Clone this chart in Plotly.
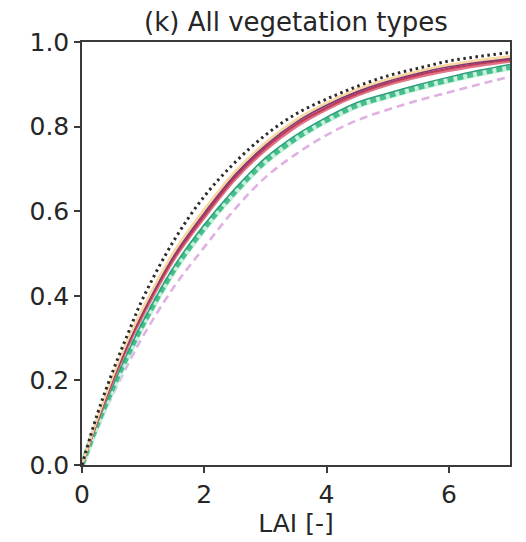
import plotly.graph_objects as go

# LAI grid [-]
lai = [0, 0.25, 0.5, 0.75, 1, 1.5, 2, 2.5, 3, 3.5, 4, 4.5, 5, 5.5, 6, 6.5, 7]

# Black dotted curve (highest)
dotted = [0, 0.120, 0.220, 0.310, 0.395, 0.530, 0.635, 0.715, 0.780, 0.830, 0.865, 0.895, 0.920, 0.938, 0.955, 0.966, 0.975]

# Magma-coloured solid bundle
mag_yellow = [0, 0.110, 0.208, 0.296, 0.372, 0.503, 0.604, 0.693, 0.762, 0.816, 0.856, 0.888, 0.912, 0.931, 0.946, 0.957, 0.966]
mag_purple = [0, 0.107, 0.204, 0.290, 0.366, 0.496, 0.597, 0.686, 0.756, 0.811, 0.851, 0.883, 0.908, 0.927, 0.942, 0.953, 0.962]
mag_red = [0, 0.105, 0.200, 0.285, 0.360, 0.490, 0.590, 0.680, 0.750, 0.805, 0.845, 0.878, 0.903, 0.922, 0.937, 0.949, 0.958]
mag_pink = [0, 0.102, 0.196, 0.280, 0.354, 0.484, 0.584, 0.674, 0.744, 0.799, 0.840, 0.873, 0.898, 0.917, 0.932, 0.944, 0.954]

# Green dashed bundle
green_top = [0, 0.098, 0.185, 0.266, 0.340, 0.468, 0.568, 0.653, 0.726, 0.780, 0.822, 0.857, 0.879, 0.899, 0.917, 0.933, 0.947]
green_mid = [0, 0.095, 0.180, 0.260, 0.333, 0.460, 0.560, 0.645, 0.718, 0.772, 0.815, 0.850, 0.872, 0.892, 0.910, 0.926, 0.940]

# Pink dashed curve (lowest)
pink = [0, 0.085, 0.165, 0.238, 0.305, 0.420, 0.515, 0.605, 0.680, 0.735, 0.780, 0.815, 0.840, 0.862, 0.881, 0.900, 0.918]

x_ticks = [0, 2, 4, 6]
y_ticks = [0.0, 0.2, 0.4, 0.6, 0.8, 1.0]
y_tick_text = ["0.0", "0.2", "0.4", "0.6", "0.8", "1.0"]

fig = go.Figure()

def add(y, color, width, dash="solid"):
    fig.add_trace(go.Scatter(x=lai, y=y, mode="lines",
                             line=dict(color=color, width=width, dash=dash, shape="spline"),
                             hoverinfo="skip", showlegend=False))

add(pink, "#e0b0e2", 2.6, "8px,5px")
add(green_mid, "#c8f0de", 6.5)
add(green_mid, "#45c08a", 5, "6px,4px")
add(green_top, "#2f9e7c", 1.5)
add(mag_pink, "#e07585", 2.4)
add(mag_red, "#bf3a5a", 2.4)
add(mag_purple, "#7d3a78", 2.2)
add(mag_yellow, "#f9d7a2", 2.6)
add(dotted, "#2b2b2b", 3, "2.5px,3.6px")

axis_common = dict(showgrid=False, zeroline=False, showline=True, linecolor="#3a3a3a",
                   linewidth=1.5, mirror=True, ticks="outside", ticklen=6, tickwidth=1.5,
                   tickcolor="#3a3a3a",
                   tickfont=dict(family="DejaVu Sans", size=25, color="#262626"))

# The page body has an 8px default margin, so the figure is 8px smaller and shifted.
fig.update_layout(
    width=518, height=534,
    margin=dict(l=74, r=16, t=34, b=77),
    paper_bgcolor="white", plot_bgcolor="white",
    title=dict(text="(k) All vegetation types", x=0.5, xref="paper",
               y=1 - 14 / 534, yref="container", yanchor="middle",
               font=dict(family="DejaVu Sans", size=26, color="#262626")),
    xaxis=dict(range=[0, 7], tickvals=x_ticks, ticktext=[str(v) for v in x_ticks],
               title=dict(text="LAI [-]", standoff=2,
                          font=dict(family="DejaVu Sans", size=25, color="#262626")),
               **axis_common),
    yaxis=dict(range=[0, 1], tickvals=y_ticks, ticktext=y_tick_text, **axis_common),
)

fig.write_html("out.html")
